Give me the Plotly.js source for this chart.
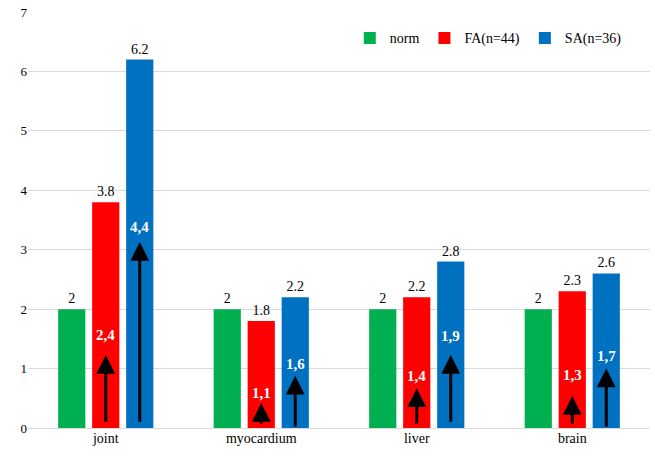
<!DOCTYPE html>
<html>
<head>
<meta charset="utf-8">
<script src="https://cdn.plot.ly/plotly-3.0.1.min.js"></script>
<style>html,body{margin:0;padding:0;background:#fff;}#chart{width:655px;height:466px;}</style>
</head>
<body>
<div id="chart"></div>
<script>
const categories = ['joint', 'myocardium', 'liver', 'brain'];
const seriesNames = ['norm', 'FA(n=44)', 'SA(n=36)'];
const normValues = [2, 2, 2, 2];
const faValues = [3.8, 1.8, 2.2, 2.3];
const saValues = [6.2, 2.2, 2.8, 2.6];
const colors = ['#00b050', '#ff0000', '#0070c0'];

// ratio labels and arrows inside FA / SA bars
const faRatioLabels = ['2,4', '1,1', '1,4', '1,3'];
const saRatioLabels = ['4,4', '1,6', '1,9', '1,7'];
const faArrowTop = [1.23, 0.42, 0.67, 0.54];
const faArrowBottom = [0.08, 0.05, 0.05, 0.05];
const faLabelY = [1.57, 0.59, 0.88, 0.89];
const saArrowTop = [3.13, 0.88, 1.23, 1.0];
const saArrowBottom = [0.08, 0.0, 0.08, 0.0];
const saLabelY = [3.38, 1.08, 1.55, 1.21];

const yTicks = [0, 1, 2, 3, 4, 5, 6, 7];

const bargap = 0.344;
const bargroupgap = 0.2;
const slot = (1 - bargap) / 3;

const serifFamily = 'Liberation Serif';

function barTrace(name, vals, color) {
  return {
    type: 'bar', name: name, x: categories, y: vals,
    marker: {color: color},
    text: vals.map(String), textposition: 'outside', cliponaxis: false,
    textfont: {family: serifFamily, size: 14, color: '#000'},
    hoverinfo: 'skip'
  };
}

const data = [
  barTrace(seriesNames[0], normValues, colors[0]),
  barTrace(seriesNames[1], faValues, colors[1]),
  barTrace(seriesNames[2], saValues, colors[2])
];

const annotations = [];
function addArrows(offset, tops, bottoms, labels, labelYs) {
  categories.forEach((c, i) => {
    const xc = i + offset;
    annotations.push({
      x: xc, y: tops[i], xref: 'x', yref: 'y',
      ax: xc, ay: bottoms[i], axref: 'x', ayref: 'y',
      text: '', showarrow: true, arrowhead: 2, arrowsize: 1.25, arrowwidth: 3,
      arrowcolor: '#000', standoff: 0, startstandoff: 0
    });
    annotations.push({
      x: xc, y: labelYs[i], xref: 'x', yref: 'y', text: '<b>' + labels[i] + '</b>',
      showarrow: false, font: {family: serifFamily, size: 15, color: '#fff'}
    });
  });
}
addArrows(0, faArrowTop, faArrowBottom, faRatioLabels, faLabelY);
addArrows(slot, saArrowTop, saArrowBottom, saRatioLabels, saLabelY);

const layout = {
  width: 655, height: 466,
  margin: {l: 28, r: 5, t: 12, b: 38},
  paper_bgcolor: '#fff', plot_bgcolor: '#fff',
  barmode: 'group', bargap: bargap, bargroupgap: bargroupgap,
  font: {family: serifFamily, size: 14, color: '#000'},
  showlegend: true,
  legend: {orientation: 'h', x: 0.74, y: 0.975, xanchor: 'center', yanchor: 'top',
           font: {family: serifFamily, size: 14, color: '#000'}, bgcolor: 'rgba(0,0,0,0)'},
  xaxis: {showgrid: false, zeroline: false, showline: false,
          tickfont: {family: serifFamily, size: 14, color: '#000'}},
  yaxis: {range: [0, 7], tickvals: yTicks, ticktext: yTicks.map(String),
          showgrid: true, gridcolor: '#d9d9d9', gridwidth: 1,
          zeroline: true, zerolinecolor: '#d9d9d9', zerolinewidth: 1, showline: false,
          tickfont: {family: serifFamily, size: 13, color: '#000'}},
  annotations: annotations
};

Plotly.newPlot('chart', data, layout, {displayModeBar: false});
</script>
</body>
</html>
